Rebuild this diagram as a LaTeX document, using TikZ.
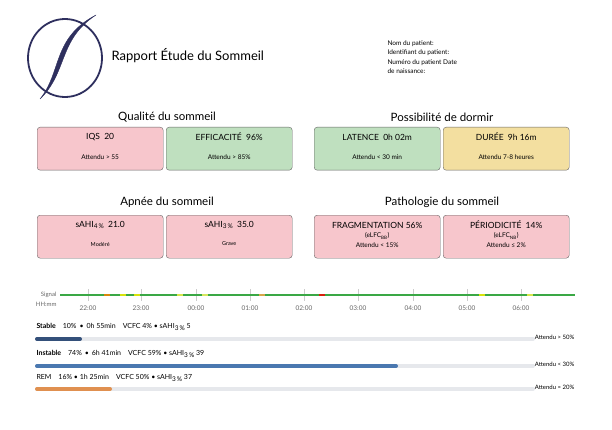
\documentclass[tikz,border=0pt]{standalone}
\usepackage{fontspec}
\setmainfont{Lato}
\usetikzlibrary{positioning}
\definecolor{navy}{HTML}{2E2F5E}
\definecolor{badfill}{HTML}{F7C6CC}
\definecolor{okfill}{HTML}{BFE0BF}
\definecolor{midfill}{HTML}{F3DFA0}
\definecolor{stablec}{HTML}{34507A}
\definecolor{instc}{HTML}{4A78B0}
\definecolor{remc}{HTML}{E09050}
\definecolor{sig}{HTML}{3AA845}
\definecolor{track}{HTML}{E6E8EC}
\tikzset{
  card/.style={draw=gray!80!black, rounded corners=3pt, minimum width=126pt, minimum height=43pt, anchor=north west},
  head/.style={font=\fontsize{11.5}{13}\selectfont},
  ctitle/.style={font=\fontsize{8.5}{10}\selectfont},
  csub/.style={font=\fontsize{6.5}{7.5}\selectfont},
  small/.style={font=\fontsize{7}{8}\selectfont, anchor=west},
  bartrack/.style={line width=4pt, line cap=round, track},
}
\newcommand{\subpc}[1]{\raisebox{-0.4ex}{\fontsize{6.5}{7}\selectfont #1\,\%}}
\begin{document}
\begin{tikzpicture}[x=1pt,y=-1pt]
		\useasboundingbox (0,0) rectangle (612,430);
		% logo
		\draw[navy, line width=1.8pt] (65,58) ellipse (37 and 39);
		\draw[navy, fill=navy] (40,99) .. controls (62,72) and (52,38) .. (96,15)
			.. controls (58,40) and (68,72) .. (40,99);
		\node[anchor=west, font=\fontsize{13}{15}\selectfont] (title) at (108,56) {Rapport Étude du Sommeil};
		\node[small, anchor=north west, align=left, font=\fontsize{6.5}{9.5}\selectfont] (patient) at (384,37)
			{Nom du patient:\\Identifiant du patient:\\Numéro du patient Date\\de naissance:};
		% sections
		\node[head] (hqual) at (167,117) {Qualité du sommeil};
		\node[head] (hposs) at (442,117) {Possibilité de dormir};
		\node[head] (hapn) at (167,202) {Apnée du sommeil};
		\node[head] (hpath) at (442,202) {Pathologie du sommeil};
		% cards
		\node[card, fill=badfill] (iqs) at (37,127) {};
		\node[card, fill=okfill] (eff) at (166,127) {};
		\node[card, fill=okfill] (lat) at (314,127) {};
		\node[card, fill=midfill] (dur) at (443,127) {};
		\node[card, fill=badfill] (ahi4) at (37,215) {};
		\node[card, fill=badfill] (ahi3) at (166,215) {};
		\node[card, fill=badfill] (frag) at (314,215) {};
		\node[card, fill=badfill] (peri) at (443,215) {};
		\foreach \n/\t/\s in {iqs/{IQS\enspace 20}/{Attendu > 55},
			eff/{EFFICACITÉ\enspace 96\%}/{Attendu > 85\%},
			lat/{LATENCE\enspace 0h 02m}/{Attendu < 30 min},
			dur/{DURÉE\enspace 9h 16m}/{Attendu 7-8 heures}}{
			\node[ctitle] at ([yshift=-10pt]\n.north) {\t};
			\node[csub] at ([yshift=-30pt]\n.north) {\s};
		}
		\node[ctitle] at ([yshift=-10pt]ahi4.north) {sAHI\subpc{4}\enspace 21.0};
		\node[csub, font=\fontsize{5.5}{6}\selectfont] at ([yshift=-29pt]ahi4.north) {Modéré};
		\node[ctitle] at ([yshift=-10pt]ahi3.north) {sAHI\subpc{3}\enspace 35.0};
		\node[csub, font=\fontsize{5.5}{6}\selectfont] at ([yshift=-29pt]ahi3.north) {Grave};
		\node[ctitle] at ([yshift=-10pt]frag.north) {FRAGMENTATION 56\%};
		\node[csub] at ([yshift=-21pt]frag.north) {(eLFC\textsubscript{BB})};
		\node[csub] at ([yshift=-30pt]frag.north) {Attendu < 15\%};
		\node[ctitle] at ([yshift=-10pt]peri.north) {PÉRIODICITÉ\enspace 14\%};
		\node[csub] at ([yshift=-21pt]peri.north) {(eLFC\textsubscript{NB})};
		\node[csub] at ([yshift=-30pt]peri.north) {Attendu ≤ 2\%};
		% signal
		\coordinate (s0) at (60,295);
		\coordinate (s1) at (575,295);
		\foreach \x/\h in {88/22,141/23,196/00,250/01,304/02,358/03,413/04,467/05,521/06}{
			\draw[gray!40] (\x,289) -- (\x,301);
			\node[font=\fontsize{6.5}{7}\selectfont, gray!80!black] at (\x,308) {\h:00};
		}
		\draw[sig, line width=2.5pt] (s0) -- (s1);
		\foreach \a/\c in {107/orange, 123/yellow, 137/yellow, 180/yellow!70, 205/yellow!60, 262/orange!70, 322/red, 482/yellow, 530/yellow!70}{
			\draw[\c, line width=2.5pt, opacity=0.8] (\a-3,295) -- (\a+3,295);
		}
		\node[font=\fontsize{6}{6}\selectfont, gray!80!black, anchor=east] (lsig) at (s0) {Signal};
		\node[font=\fontsize{6}{6}\selectfont, gray!80!black, anchor=east] (lhh) at (60,304) {HH:mm};
		% stages
		\node[small] (tstab) at (33,327) {\textbf{Stable}\quad 10\% \,•\, 0h 55min\quad VCFC 4\% • sAHI\subpc{3} 5};
		\node[small] (tinst) at (33,354) {\textbf{Instable}\quad 74\% \,•\, 6h 41min\quad VCFC 59\% • sAHI\subpc{3} 39};
		\node[small] (trem) at (33,378) {REM\quad 16\% • 1h 25min\quad VCFC 50\% • sAHI\subpc{3} 37};
		\foreach \y/\e/\c/\t in {339/80/stablec/{Attendu > 50\%}, 366/396/instc/{Attendu < 30\%}, 389/110/remc/{Attendu ≈ 20\%}}{
			\draw[bartrack] (37,\y) -- (533,\y);
			\draw[line width=4pt, line cap=round, \c] (37,\y) -- (\e,\y);
			\node[font=\fontsize{6}{6}\selectfont, anchor=east] at (578,\y-2) {\t};
		}
	\end{tikzpicture}
\end{document}
